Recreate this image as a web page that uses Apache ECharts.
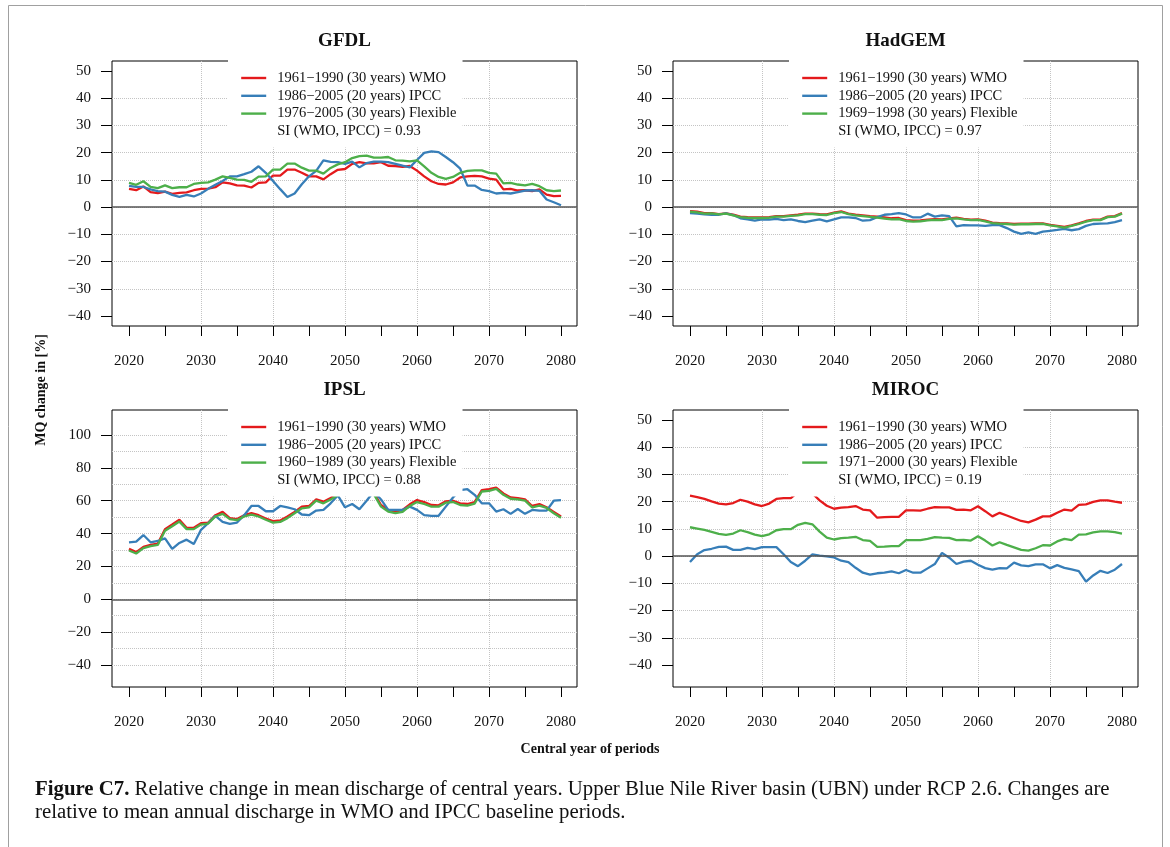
<!DOCTYPE html>
<html>
<head>
<meta charset="utf-8">
<title>Figure C7</title>
<script src="https://cdn.jsdelivr.net/npm/echarts@6.0.0/dist/echarts.min.js"></script>
<style>
  html, body { margin: 0; padding: 0; background: #fff; }
  #chart { width: 1170px; height: 847px; }
</style>
</head>
<body>
<div id="chart"></div>
<script>
// central years of the periods
const years = [2020, 2021, 2022, 2023, 2024, 2025, 2026, 2027, 2028, 2029,
    2030, 2031, 2032, 2033, 2034, 2035, 2036, 2037, 2038, 2039,
    2040, 2041, 2042, 2043, 2044, 2045, 2046, 2047, 2048, 2049,
    2050, 2051, 2052, 2053, 2054, 2055, 2056, 2057, 2058, 2059,
    2060, 2061, 2062, 2063, 2064, 2065, 2066, 2067, 2068, 2069,
    2070, 2071, 2072, 2073, 2074, 2075, 2076, 2077, 2078, 2079, 2080];

// tick labels
const xLabelYears = [2020, 2030, 2040, 2050, 2060, 2070, 2080];
const xMinorYears = [2025, 2035, 2045, 2055, 2065, 2075];
const yTicks = [-40, -30, -20, -10, 0, 10, 20, 30, 40, 50];
const ipslTicks = [-40, -20, 0, 20, 40, 60, 80, 100];
const ipslGridLines = [-50, -40, -30, -20, -10, 0, 10, 20, 30, 40, 50, 60, 70, 80, 90, 100, 110];

// legend names
const wmoName = '1961\u22121990 (30 years) WMO';
const ipccName = '1986\u22122005 (20 years) IPCC';
const flexNames = ['1976\u22122005 (30 years) Flexible', '1969\u22121998 (30 years) Flexible',
    '1960\u22121989 (30 years) Flexible', '1971\u22122000 (30 years) Flexible'];
const siNames = ['SI (WMO, IPCC) = 0.93', 'SI (WMO, IPCC) = 0.97',
    'SI (WMO, IPCC) = 0.88', 'SI (WMO, IPCC) = 0.19'];
const modelNames = ['GFDL', 'HadGEM', 'IPSL', 'MIROC'];

// GFDL
const gfdlWmo = [6.7, 6.2, 7.6, 5.5, 5.1, 5.7, 4.9, 5.2, 5.4, 6.2,
    6.7, 6.8, 7.3, 9.1, 8.7, 8.0, 7.9, 7.2, 8.9, 9.1,
    11.6, 11.6, 13.8, 13.8, 12.6, 11.3, 11.3, 10.2, 12.1, 13.7,
    14.0, 15.9, 16.5, 16.1, 16.1, 16.5, 15.2, 15.1, 14.8, 15.1,
    13.4, 11.3, 9.5, 8.5, 8.3, 9.1, 10.9, 11.3, 11.5, 11.3,
    10.5, 10.1, 6.5, 6.7, 6.1, 6.2, 5.9, 6.5, 4.6, 4.0, 4.1];
const gfdlIpcc = [7.8, 7.4, 7.4, 6.5, 5.9, 5.7, 4.5, 3.8, 4.5, 3.9,
    5.0, 6.7, 8.2, 9.6, 11.3, 11.3, 12.1, 13.0, 15.0, 12.6,
    9.6, 6.6, 3.7, 5.0, 8.4, 11.3, 13.3, 17.2, 16.6, 16.5,
    15.9, 16.7, 14.6, 16.2, 16.7, 16.7, 16.5, 15.9, 15.2, 14.6,
    17.3, 19.9, 20.5, 20.2, 18.4, 16.5, 14.1, 7.9, 7.9, 6.3,
    5.9, 5.0, 5.2, 5.0, 5.5, 6.1, 6.2, 6.0, 2.8, 1.8, 0.7];
const gfdlFlex = [8.9, 8.2, 9.5, 7.4, 7.0, 8.0, 7.0, 7.3, 7.3, 8.5,
    8.9, 9.1, 10.1, 11.3, 10.7, 10.1, 10.0, 9.3, 11.2, 11.3,
    13.8, 13.8, 16.0, 16.0, 14.5, 13.4, 13.4, 12.3, 14.4, 15.7,
    16.5, 18.0, 18.7, 18.9, 18.2, 18.2, 18.4, 17.2, 17.1, 16.8,
    17.2, 15.0, 12.6, 11.1, 10.4, 11.1, 12.6, 13.3, 13.5, 13.5,
    12.6, 12.3, 8.7, 8.9, 8.3, 8.0, 8.5, 7.7, 6.2, 5.9, 6.1];

// HadGEM
const hadWmo = [-1.5, -1.7, -2.2, -2.2, -2.6, -2.3, -2.8, -3.5, -3.7, -3.8,
    -3.8, -3.7, -3.3, -3.3, -3.0, -2.8, -2.4, -2.4, -2.6, -2.7,
    -2.0, -1.6, -2.4, -2.8, -3.0, -3.3, -3.5, -3.8, -4.1, -4.0,
    -4.8, -5.0, -4.9, -4.6, -4.4, -4.5, -4.1, -3.9, -4.3, -4.6,
    -4.5, -5.0, -5.7, -5.9, -6.0, -6.2, -6.1, -6.1, -6.0, -6.0,
    -6.5, -6.9, -7.3, -6.7, -6.0, -5.1, -4.6, -4.6, -3.5, -3.3, -2.2];
const hadIpcc = [-2.2, -2.4, -2.7, -2.8, -2.8, -2.3, -2.9, -4.1, -4.5, -5.0,
    -4.5, -4.6, -4.3, -4.8, -4.5, -5.1, -5.5, -5.0, -4.5, -5.2,
    -4.5, -3.8, -3.8, -4.0, -5.0, -4.8, -3.7, -2.8, -2.6, -2.2,
    -2.7, -3.8, -3.8, -2.4, -3.5, -3.0, -3.3, -7.1, -6.6, -6.7,
    -6.7, -6.9, -6.6, -6.6, -7.7, -9.0, -9.8, -9.3, -9.8, -9.0,
    -8.7, -8.4, -8.0, -8.5, -8.1, -6.9, -6.2, -6.1, -6.0, -5.5, -4.8];
const hadFlex = [-1.7, -1.9, -2.4, -2.3, -2.7, -2.4, -3.0, -3.7, -3.9, -4.0,
    -4.0, -3.9, -3.5, -3.5, -3.2, -3.0, -2.6, -2.6, -2.8, -2.9,
    -2.2, -1.8, -2.6, -3.0, -3.3, -3.6, -3.9, -4.2, -4.5, -4.4,
    -5.1, -5.3, -5.2, -4.9, -4.7, -4.8, -4.3, -4.1, -4.5, -4.8,
    -4.7, -5.2, -5.9, -6.1, -6.2, -6.4, -6.3, -6.3, -6.2, -6.2,
    -6.7, -7.1, -7.5, -6.9, -6.2, -5.3, -4.8, -4.8, -3.7, -3.5, -2.4];

// IPSL
const ipslWmo = [30.7, 28.7, 31.9, 33.1, 33.9, 42.7, 45.5, 48.4, 43.5, 43.5,
    46.3, 46.7, 51.2, 53.2, 49.4, 48.8, 51.2, 52.4, 51.2, 49.2,
    47.6, 48.0, 50.4, 53.2, 56.4, 56.8, 60.8, 59.4, 61.6, 64.4,
    65.5, 66.5, 64.5, 66.5, 65.0, 57.4, 54.4, 53.4, 54.4, 57.8,
    60.4, 59.2, 57.4, 57.2, 59.6, 60.0, 58.4, 58.0, 59.2, 66.4,
    67.0, 68.0, 64.4, 62.0, 61.6, 60.8, 56.8, 58.0, 56.0, 53.2, 50.4];
const ipslIpcc = [34.7, 35.1, 39.1, 34.7, 35.5, 37.1, 30.7, 34.3, 36.3, 33.7,
    42.3, 46.3, 50.8, 47.1, 45.9, 46.7, 51.2, 56.8, 56.8, 53.6,
    53.6, 56.8, 56.0, 54.8, 51.6, 51.2, 54.0, 54.4, 58.4, 63.2,
    56.0, 58.0, 54.8, 60.0, 65.6, 60.8, 54.4, 54.4, 54.4, 56.4,
    54.4, 51.2, 50.8, 50.8, 56.4, 62.0, 66.4, 67.0, 63.6, 58.4,
    58.4, 53.4, 54.8, 52.0, 55.0, 52.0, 54.4, 54.0, 54.0, 60.0, 60.4];
const ipslFlex = [29.7, 27.9, 31.1, 32.3, 33.1, 41.7, 44.5, 47.3, 42.7, 42.7,
    45.5, 46.1, 50.4, 52.0, 48.8, 48.2, 50.4, 51.6, 50.4, 48.4,
    46.7, 47.1, 49.4, 52.4, 55.4, 56.0, 60.0, 58.4, 60.8, 63.4,
    64.5, 65.5, 63.5, 65.5, 64.0, 56.4, 53.4, 52.4, 53.2, 56.8,
    59.2, 58.0, 56.4, 56.4, 58.8, 59.2, 57.4, 57.0, 58.2, 65.6,
    66.0, 67.2, 63.6, 61.2, 60.8, 60.0, 56.0, 57.0, 55.6, 52.4, 49.6];

// MIROC
const mirocWmo = [22.2, 21.7, 21.0, 20.1, 19.3, 19.0, 19.5, 20.7, 20.0, 19.0,
    18.4, 19.3, 21.0, 21.3, 21.3, 23.5, 24.5, 23.0, 20.5, 18.5,
    17.4, 17.8, 18.0, 18.4, 17.1, 16.8, 14.1, 14.3, 14.4, 14.4,
    16.8, 16.8, 16.7, 17.4, 18.0, 17.9, 17.9, 17.0, 17.1, 16.8,
    18.3, 16.5, 14.6, 15.9, 14.9, 13.9, 12.9, 12.4, 13.4, 14.6,
    14.6, 15.9, 17.1, 16.7, 18.8, 19.0, 19.9, 20.5, 20.5, 20.0, 19.6];
const mirocIpcc = [-2.2, 0.7, 2.2, 2.7, 3.4, 3.5, 2.3, 2.3, 3.0, 2.6,
    3.3, 3.3, 3.3, 0.7, -2.2, -3.7, -1.7, 0.6, 0.2, -0.1,
    -0.5, -1.7, -2.2, -4.3, -6.1, -6.8, -6.3, -6.1, -5.6, -6.3,
    -5.1, -6.1, -6.1, -4.5, -2.9, 1.2, -0.6, -2.9, -2.0, -1.7,
    -3.2, -4.4, -5.0, -4.4, -4.5, -2.4, -3.4, -3.7, -3.0, -3.0,
    -4.5, -3.3, -4.3, -4.9, -5.5, -9.4, -7.1, -5.4, -6.2, -5.0, -2.9];
const mirocFlex = [10.6, 10.1, 9.6, 8.9, 8.2, 7.8, 8.3, 9.5, 8.8, 7.9,
    7.3, 8.0, 9.5, 9.9, 9.9, 11.5, 12.2, 11.7, 9.0, 6.8,
    6.1, 6.6, 6.8, 7.1, 5.9, 5.6, 3.4, 3.5, 3.7, 3.7,
    5.9, 5.9, 5.9, 6.3, 7.0, 6.8, 6.7, 5.9, 6.0, 5.7,
    7.3, 5.7, 3.9, 5.1, 4.1, 3.2, 2.3, 2.0, 2.9, 4.0,
    3.9, 5.4, 6.3, 5.9, 7.9, 8.0, 8.7, 9.1, 9.1, 8.8, 8.3];

const wmoSeries = [gfdlWmo, hadWmo, ipslWmo, mirocWmo];
const ipccSeries = [gfdlIpcc, hadIpcc, ipslIpcc, mirocIpcc];
const flexSeries = [gfdlFlex, hadFlex, ipslFlex, mirocFlex];

// ---- layout of the four panels (frame box in px, axis extents) ----
const SERIF = "'Liberation Serif', 'Times New Roman', serif";
const RED = '#E41A1C', BLUE = '#377EB8', GREEN = '#4DAF4A';
const X_MIN = 2020 - 17 / 7.2, X_MAX = 2080 + 16 / 7.2;

const panelLayout = [
    { left: 112, top: 61, height: 265, yMin: -43.67, yMax: 53.67, split: 10, labels: yTicks, lines: yTicks },
    { left: 673, top: 61, height: 265, yMin: -43.67, yMax: 53.67, split: 10, labels: yTicks, lines: yTicks },
    { left: 112, top: 410, height: 277, yMin: -53.39, yMax: 115.22, split: 17, labels: ipslTicks, lines: ipslGridLines },
    { left: 673, top: 410, height: 277, yMin: -48.08, yMax: 53.67, split: 10, labels: yTicks, lines: yTicks }
];

function pairs (vals) {
    return years.map((y, i) => [y, vals[i]]);
}

function minusSign (v) {
    return String(v).replace('-', '\u2212');
}

const grids = [], xAxes = [], yAxes = [], series = [], legends = [], titles = [];
const dotted = { type: 'dotted', color: '#c4c4c4', width: 1 };

panelLayout.forEach((p, i) => {
    grids.push({
        left: p.left, top: p.top, width: 465, height: p.height,
        show: true, borderColor: '#000', borderWidth: 1, backgroundColor: 'transparent'
    });

    // main axes: labels + dotted grid
    xAxes[i] = {
        type: 'value', gridIndex: i, min: X_MIN, max: X_MAX, splitNumber: 6, position: 'bottom',
        axisLine: { show: false, onZero: false },
        axisTick: { show: true, length: 10, customValues: xLabelYears, lineStyle: { color: '#000' } },
        axisLabel: { customValues: xLabelYears, margin: 28, formatter: v => String(v),
            fontFamily: SERIF, fontSize: 15, color: '#111' },
        splitLine: { show: true, showMinLine: false, showMaxLine: false, lineStyle: dotted }
    };
    yAxes[i] = {
        type: 'value', gridIndex: i, min: p.yMin, max: p.yMax, splitNumber: p.split,
        axisLine: { show: false, onZero: false },
        axisTick: { show: false, customValues: p.lines },
        axisLabel: { customValues: p.labels, margin: 21, formatter: minusSign,
            fontFamily: SERIF, fontSize: 15, color: '#111' },
        splitLine: { show: true, showMinLine: false, showMaxLine: false, lineStyle: dotted }
    };
    // second axes only for the tick marks
    xAxes[i + 4] = {
        type: 'value', gridIndex: i, min: X_MIN, max: X_MAX, position: 'bottom',
        axisLine: { show: false, onZero: false }, axisLabel: { show: false }, splitLine: { show: false },
        axisTick: { show: true, length: 10, customValues: xMinorYears, lineStyle: { color: '#000' } }
    };
    yAxes[i + 4] = {
        type: 'value', gridIndex: i, min: p.yMin, max: p.yMax, position: 'left',
        axisLine: { show: false, onZero: false }, axisLabel: { show: false }, splitLine: { show: false },
        axisTick: { show: true, length: 11, customValues: p.labels, lineStyle: { color: '#000' } }
    };

    const common = { type: 'line', xAxisIndex: i, yAxisIndex: i, symbol: 'none', z: 3 };
    series.push(Object.assign({}, common, {
        name: wmoName, data: pairs(wmoSeries[i]),
        lineStyle: { color: RED, width: 2.3 }, itemStyle: { color: RED },
        markLine: {
            silent: true, symbol: ['none', 'none'], label: { show: false },
            lineStyle: { color: '#555', width: 1.5, type: 'solid' },
            data: [{ yAxis: 0 }]
        }
    }));
    series.push(Object.assign({}, common, {
        name: ipccName, data: pairs(ipccSeries[i]),
        lineStyle: { color: BLUE, width: 2.3 }, itemStyle: { color: BLUE }
    }));
    series.push(Object.assign({}, common, {
        name: flexNames[i], data: pairs(flexSeries[i]),
        lineStyle: { color: GREEN, width: 2.3 }, itemStyle: { color: GREEN }
    }));
    // empty series so the SI line shows inside the legend box
    series.push(Object.assign({}, common, { name: siNames[i], data: [] }));

    legends.push({
        orient: 'vertical', left: p.left + 116, top: p.top - 8.5,
        data: [wmoName, ipccName, flexNames[i], { name: siNames[i], icon: 'none' }],
        itemWidth: 25, itemHeight: 14, itemGap: 2.8,
        itemStyle: { opacity: 0 },
        lineStyle: { width: 2.4 },
        padding: [18, 6, 8.5, 12], backgroundColor: '#fff', selectedMode: false,
        textStyle: { fontFamily: SERIF, fontSize: 14.5, color: '#111', padding: [0, 0, 0, 6] }
    });

    titles.push({
        text: modelNames[i], left: p.left + 232.5, top: p.top - 29, textAlign: 'center', padding: 0,
        textStyle: { fontFamily: SERIF, fontSize: 19, fontWeight: 'bold', color: '#111' }
    });
});

const chart = echarts.init(document.getElementById('chart'), null, { renderer: 'canvas' });

chart.setOption({
    backgroundColor: '#fff',
    animation: false,
    title: titles,
    legend: legends,
    grid: grids,
    xAxis: xAxes,
    yAxis: yAxes,
    series: series,
    graphic: [
        {
            type: 'rect', silent: true,
            shape: { x: 8.5, y: 5.5, width: 1154, height: 900 },
            style: { fill: 'none', stroke: '#a0a0a0', lineWidth: 1 }
        },
        {
            type: 'text', x: 41, y: 390, rotation: Math.PI / 2,
            style: { text: 'MQ change in [%]', x: 0, y: 0, align: 'center', verticalAlign: 'middle',
                fontFamily: SERIF, fontSize: 14, fontWeight: 'bold', fill: '#111' }
        },
        {
            type: 'text', x: 590, y: 749,
            style: { text: 'Central year of periods', x: 0, y: 0, align: 'center', verticalAlign: 'middle',
                fontFamily: SERIF, fontSize: 14, fontWeight: 'bold', fill: '#111' }
        },
        {
            type: 'text', x: 35, y: 778,
            style: {
                text: '{b|Figure C7.} Relative change in mean discharge of central years. Upper Blue Nile River basin (UBN) under RCP 2.6. Changes are\nrelative to mean annual discharge in WMO and IPCC baseline periods.',
                x: 0, y: 0, fontFamily: SERIF, fontSize: 20.8, lineHeight: 23, fill: '#111',
                rich: { b: { fontFamily: SERIF, fontSize: 20.8, fontWeight: 'bold', lineHeight: 23, fill: '#111' } }
            }
        }
    ]
});
</script>
</body>
</html>
